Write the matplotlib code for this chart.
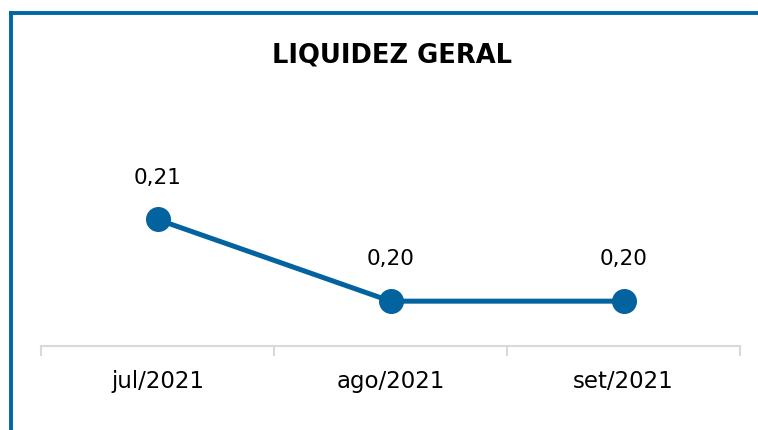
import matplotlib.pyplot as plt
from matplotlib.lines import Line2D

# data
months = ['jul/2021', 'ago/2021', 'set/2021']
liquidez = [0.21, 0.20, 0.20]
labels = ['0,21', '0,20', '0,20']

blue = '#03639f'
grey = '#d9d9d9'

fig = plt.figure(figsize=(7.58, 4.30), dpi=100)
ax = fig.add_axes([41 / 758, 1 - 346 / 430, 699 / 758, 246 / 430])

x = list(range(len(months)))
ax.plot(x, liquidez, color=blue, linewidth=3.6, marker='o', markersize=17,
        solid_capstyle='round')

for xi, yi, lab in zip(x, liquidez, labels):
    ax.annotate(lab, (xi, yi), xytext=(0, 30), textcoords='offset points',
                ha='center', va='center', fontsize=15.5, color='black')

ax.set_xlim(-0.5, len(months) - 0.5)
ax.set_ylim(0.19451, 0.22463)

# category labels on major ticks, boundary ticks as minor ticks
ax.set_xticks(x)
ax.set_xticklabels(months, fontsize=16.5, color='black')
ax.tick_params(axis='x', which='major', length=0, pad=17)
ax.set_xticks([i - 0.5 for i in range(len(months) + 1)], minor=True)
ax.tick_params(axis='x', which='minor', length=7, width=1.5, color=grey)
ax.set_yticks([])

for side in ['top', 'right', 'left']:
    ax.spines[side].set_visible(False)
ax.spines['bottom'].set_color(grey)
ax.spines['bottom'].set_linewidth(1.5)

fig.text(392 / 758, 1 - 55 / 430, 'LIQUIDEZ GERAL', ha='center', va='center',
         fontsize=18.5, fontweight='bold', color='black')

# blue frame at top and left
fig.add_artist(Line2D([9 / 758, 1], [1 - 12.5 / 430, 1 - 12.5 / 430],
                      color='#0066a6', linewidth=2.8, solid_capstyle='butt',
                      transform=fig.transFigure))
fig.add_artist(Line2D([10.5 / 758, 10.5 / 758], [0, 1 - 11 / 430],
                      color='#0066a6', linewidth=2.8, solid_capstyle='butt',
                      transform=fig.transFigure))

fig.savefig('out.png', dpi=100)
